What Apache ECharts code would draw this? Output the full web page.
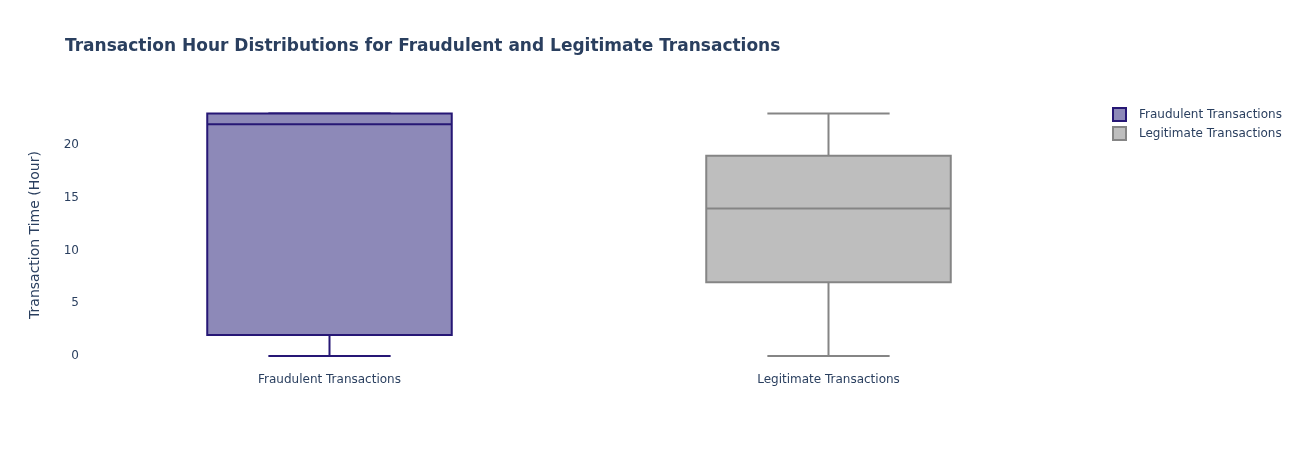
<!DOCTYPE html>
<html>
<head>
<meta charset="utf-8">
<script src="https://cdn.jsdelivr.net/npm/echarts@6/dist/echarts.min.js"></script>
<style>
  html, body { margin: 0; padding: 0; background: #fff; }
  #chart { width: 1298px; height: 450px; }
</style>
</head>
<body>
<div id="chart"></div>
<script>
// categories on the x axis
const categories = ['Fraudulent Transactions', 'Legitimate Transactions'];

// box stats: [min, q1, median, q3, max]
const fraudStats = [0, 2, 22, 23, 23];
const legitStats = [0, 7, 14, 19, 23];

const fraudLine = '#261775';
const fraudFill = '#8d89b8';
const legitLine = '#858585';
const legitFill = '#bebebe';
const textColor = '#2a3f5f';

// draw one box + whiskers from the axis scales
function renderBox(params, api) {
    const x = api.value(0);
    const lo = api.coord([x, api.value(1)]);
    const q1 = api.coord([x, api.value(2)]);
    const med = api.coord([x, api.value(3)]);
    const q3 = api.coord([x, api.value(4)]);
    const hi = api.coord([x, api.value(5)]);
    const band = api.size([1, 0])[0];
    const half = band * 0.245;
    const cap = half / 2;
    const cx = lo[0];
    const style = api.style();
    const stroke = { stroke: style.stroke, lineWidth: 2, fill: null };
    return {
        type: 'group',
        children: [
            { type: 'line', shape: { x1: cx, y1: lo[1], x2: cx, y2: q1[1] }, style: stroke },
            { type: 'line', shape: { x1: cx, y1: q3[1], x2: cx, y2: hi[1] }, style: stroke },
            { type: 'line', shape: { x1: cx - cap, y1: lo[1], x2: cx + cap, y2: lo[1] }, style: stroke },
            { type: 'line', shape: { x1: cx - cap, y1: hi[1], x2: cx + cap, y2: hi[1] }, style: stroke },
            {
                type: 'rect',
                shape: { x: cx - half, y: q3[1], width: half * 2, height: q1[1] - q3[1] },
                style: { fill: style.fill, stroke: style.stroke, lineWidth: 2 }
            },
            { type: 'line', shape: { x1: cx - half, y1: med[1], x2: cx + half, y2: med[1] }, style: stroke }
        ]
    };
}

function boxSeries(name, idx, stats, line, fill) {
    return {
        name: name,
        type: 'custom',
        renderItem: renderBox,
        itemStyle: { color: fill, borderColor: line },
        encode: { x: 0, y: [1, 2, 3, 4, 5] },
        data: [[idx].concat(stats)]
    };
}

const dom = document.getElementById('chart');
const myChart = echarts.init(dom, null, { renderer: 'canvas' });

const option = {
    animation: false,
    backgroundColor: '#fff',
    title: {
        text: 'Transaction Hour Distributions for Fraudulent and Legitimate Transactions',
        left: 60,
        top: 33,
        textStyle: {
            fontFamily: 'DejaVu Sans',
            fontSize: 17,
            fontWeight: 'bold',
            color: textColor
        }
    },
    legend: {
        orient: 'vertical',
        left: 1107,
        top: 102,
        itemWidth: 13,
        itemHeight: 13,
        itemGap: 4,
        textStyle: { fontFamily: 'DejaVu Sans', fontSize: 12, color: textColor, padding: [0, 0, 0, 8] },
        data: [
            { name: categories[0], icon: 'rect', itemStyle: { color: fraudFill, borderColor: fraudLine, borderWidth: 2 } },
            { name: categories[1], icon: 'rect', itemStyle: { color: legitFill, borderColor: legitLine, borderWidth: 2 } }
        ]
    },
    grid: { left: 80, right: 220, top: 100, bottom: 80 },
    xAxis: {
        type: 'category',
        data: categories,
        axisLine: { show: false },
        axisTick: { show: false },
        splitLine: { show: false },
        axisLabel: { margin: 4, fontFamily: 'DejaVu Sans', fontSize: 12, color: textColor }
    },
    yAxis: {
        type: 'value',
        min: -1.33,
        max: 24.29,
        splitNumber: 5,
        name: 'Transaction Time (Hour)',
        nameLocation: 'middle',
        nameGap: 38,
        nameRotate: 90,
        nameTextStyle: { fontFamily: 'DejaVu Sans', fontSize: 14, color: textColor },
        axisLine: { show: false },
        axisTick: { show: false },
        splitLine: { show: false },
        axisLabel: {
            margin: 1,
            fontFamily: 'DejaVu Sans',
            fontSize: 12,
            color: textColor,
            formatter: v => (Math.abs(v % 5) < 1e-9 ? String(v) : '')
        }
    },
    series: [
        boxSeries(categories[0], 0, fraudStats, fraudLine, fraudFill),
        boxSeries(categories[1], 1, legitStats, legitLine, legitFill)
    ]
};

myChart.setOption(option);
window.addEventListener('resize', myChart.resize);
</script>
</body>
</html>
